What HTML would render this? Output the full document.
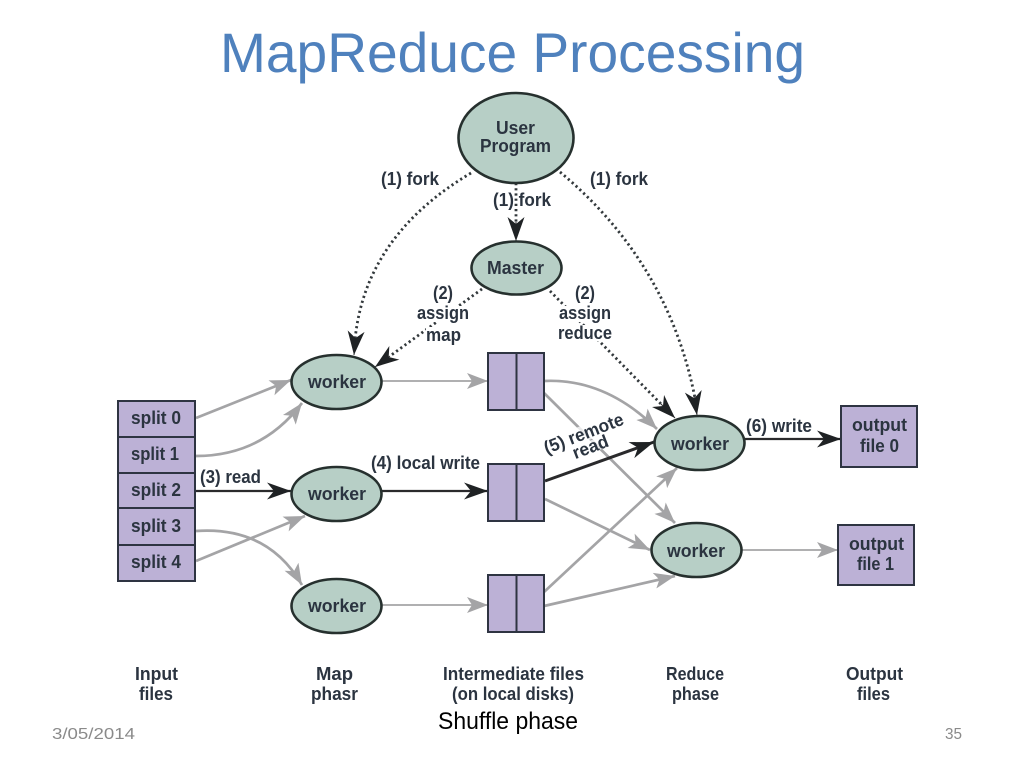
<!DOCTYPE html>
<html>
<head>
<meta charset="utf-8">
<style>
html,body{margin:0;padding:0;background:#fff;width:1024px;height:768px;overflow:hidden}
svg{display:block}
text{font-family:"Liberation Sans",sans-serif}
.l{font-size:18px;font-weight:bold;fill:#2b3440;text-anchor:start}
.b{fill:#bcb1d6;stroke:#2e3442;stroke-width:2}
.e{fill:#b7cfc6;stroke:#26302e;stroke-width:2.6}
.g{fill:none;stroke:#a4a4a6;stroke-width:2.7}
.gt{fill:none;stroke:#a4a4a6;stroke-width:1.8}
.k{fill:none;stroke:#2a2a2c;stroke-width:2.2}
.d{fill:none;stroke:#33393c;stroke-width:2.8;stroke-dasharray:2.2 3}
.dg{filter:blur(.35px)}
</style>
</head>
<body>
<svg width="1024" height="768" viewBox="0 0 1024 768" xmlns="http://www.w3.org/2000/svg">
<defs>
<marker id="ag" markerUnits="userSpaceOnUse" markerWidth="26" markerHeight="20" refX="21" refY="10" orient="auto"><path d="M0,2 L21,10 L0,18 L5,10 Z" fill="#a4a4a6"/></marker>
<marker id="ak" markerUnits="userSpaceOnUse" markerWidth="30" markerHeight="22" refX="24" refY="11" orient="auto"><path d="M0,2.500 L24,11 L0,19.500 L7,11 Z" fill="#1f2224"/></marker>
</defs>
<rect width="1024" height="768" fill="#fff"/>

<text x="220" y="72" font-size="56" fill="#4f81bd" textLength="585" lengthAdjust="spacingAndGlyphs">MapReduce Processing</text>

<g class="dg">
<!-- connectors -->
<path class="g" marker-end="url(#ag)" d="M196,418 L291,380"/>
<path class="g" marker-end="url(#ag)" d="M196,456 Q262,456 302,403"/>
<path class="k" marker-end="url(#ak)" d="M194,491 L291,491"/>
<path class="g" marker-end="url(#ag)" d="M196,531 Q268,526 302,585"/>
<path class="g" marker-end="url(#ag)" d="M196,561 L305,516"/>
<path class="gt" marker-end="url(#ag)" d="M382,381 L488,381"/>
<path class="k" marker-end="url(#ak)" d="M382,491 L488,491"/>
<path class="gt" marker-end="url(#ag)" d="M382,605 L488,605"/>
<path class="g" marker-end="url(#ag)" d="M544,381 Q605,378 657,429"/>
<path class="g" marker-end="url(#ag)" d="M544,393 L675,523"/>
<path class="g" marker-end="url(#ag)" d="M545,499 L650,550"/>
<path class="g" marker-end="url(#ag)" d="M544,592 L677,468"/>
<path class="g" marker-end="url(#ag)" d="M544,606 L675,576"/>
<g transform="translate(587,459) rotate(-21)">
<rect x="-30" y="-33" width="82" height="16" fill="#fff" fill-opacity=".75"/>
<rect x="-12" y="-16" width="40" height="12" fill="#fff" fill-opacity=".75"/>
</g>
<path class="k" style="stroke-width:3" marker-end="url(#ak)" d="M545,481 L654,442"/>
<path class="k" marker-end="url(#ak)" d="M745,439 L841,439"/>
<path class="gt" marker-end="url(#ag)" d="M742,550 L838,550"/>

<path class="d" d="M516,183 L516,225"/>
<path class="k" marker-end="url(#ak)" d="M516,222 L516,241" style="stroke-width:1"/>
<path class="d" d="M471,173 Q365,236 355,340"/>
<path class="k" marker-end="url(#ak)" d="M355.500,338 L354,355" style="stroke-width:1"/>
<path class="d" d="M560,172 Q668,262 695,398"/>
<path class="k" marker-end="url(#ak)" d="M694,396 L697,415" style="stroke-width:1"/>
<path class="d" d="M482,289 L390,356"/>
<path class="k" marker-end="url(#ak)" d="M390,356 L375,367" style="stroke-width:1"/>
<path class="d" d="M550,291 L661,404"/>
<path class="k" marker-end="url(#ak)" d="M661,404 L675,418" style="stroke-width:1"/>

<!-- splits -->
<rect class="b" x="118" y="401" width="77" height="36"/>
<rect class="b" x="118" y="437" width="77" height="36"/>
<rect class="b" x="118" y="473" width="77" height="35"/>
<rect class="b" x="118" y="508" width="77" height="37"/>
<rect class="b" x="118" y="545" width="77" height="36"/>
<text class="l" x="131" y="424" textLength="50" lengthAdjust="spacingAndGlyphs">split 0</text>
<text class="l" x="131" y="460" textLength="48" lengthAdjust="spacingAndGlyphs">split 1</text>
<text class="l" x="131" y="496" textLength="50" lengthAdjust="spacingAndGlyphs">split 2</text>
<text class="l" x="131" y="532" textLength="50" lengthAdjust="spacingAndGlyphs">split 3</text>
<text class="l" x="131" y="568" textLength="50" lengthAdjust="spacingAndGlyphs">split 4</text>

<!-- intermediate -->
<rect class="b" x="488" y="353" width="56" height="57"/><line x1="516.500" y1="353" x2="516.500" y2="410" stroke="#2e3442" stroke-width="2"/>
<rect class="b" x="488" y="464" width="56" height="57"/><line x1="516.500" y1="464" x2="516.500" y2="521" stroke="#2e3442" stroke-width="2"/>
<rect class="b" x="488" y="575" width="56" height="57"/><line x1="516.500" y1="575" x2="516.500" y2="632" stroke="#2e3442" stroke-width="2"/>

<!-- outputs -->
<rect class="b" x="841" y="406" width="76" height="61"/>
<rect class="b" x="838" y="525" width="76" height="60"/>
<text class="l" x="852" y="431" textLength="55" lengthAdjust="spacingAndGlyphs">output</text>
<text class="l" x="860" y="452" textLength="39" lengthAdjust="spacingAndGlyphs">file 0</text>
<text class="l" x="849" y="550" textLength="55" lengthAdjust="spacingAndGlyphs">output</text>
<text class="l" x="857" y="570" textLength="37" lengthAdjust="spacingAndGlyphs">file 1</text>

<!-- ellipses -->
<ellipse class="e" cx="516" cy="138" rx="57.500" ry="45"/>
<ellipse class="e" cx="516.500" cy="268" rx="45" ry="26.500"/>
<ellipse class="e" cx="336.500" cy="382" rx="45" ry="27"/>
<ellipse class="e" cx="336.500" cy="494" rx="45" ry="27"/>
<ellipse class="e" cx="336.500" cy="606" rx="45" ry="27"/>
<ellipse class="e" cx="699.500" cy="443" rx="45" ry="27"/>
<ellipse class="e" cx="696.500" cy="550" rx="45" ry="27"/>

<text class="l" x="496" y="134" textLength="39" lengthAdjust="spacingAndGlyphs">User</text>
<text class="l" x="480" y="152" textLength="71" lengthAdjust="spacingAndGlyphs">Program</text>
<text class="l" x="487" y="274" textLength="57" lengthAdjust="spacingAndGlyphs">Master</text>
<text class="l" x="308" y="388" textLength="58" lengthAdjust="spacingAndGlyphs">worker</text>
<text class="l" x="308" y="500" textLength="58" lengthAdjust="spacingAndGlyphs">worker</text>
<text class="l" x="308" y="612" textLength="58" lengthAdjust="spacingAndGlyphs">worker</text>
<text class="l" x="671" y="450" textLength="58" lengthAdjust="spacingAndGlyphs">worker</text>
<text class="l" x="667" y="557" textLength="58" lengthAdjust="spacingAndGlyphs">worker</text>

<!-- connector labels -->
<text class="l" x="381" y="185" textLength="58" lengthAdjust="spacingAndGlyphs">(1) fork</text>
<text class="l" x="590" y="185" textLength="58" lengthAdjust="spacingAndGlyphs">(1) fork</text>
<text class="l" x="493" y="206" textLength="58" lengthAdjust="spacingAndGlyphs">(1) fork</text>

<rect x="418" y="306" width="51" height="16" fill="#fff"/>
<rect x="426" y="327" width="35" height="17" fill="#fff"/>
<rect x="559" y="306" width="52" height="16" fill="#fff"/>
<rect x="558" y="325" width="54" height="16" fill="#fff"/>
<text class="l" x="433" y="299" textLength="20" lengthAdjust="spacingAndGlyphs">(2)</text>
<text class="l" x="417" y="319" textLength="52" lengthAdjust="spacingAndGlyphs">assign</text>
<text class="l" x="426" y="341" textLength="35" lengthAdjust="spacingAndGlyphs">map</text>
<text class="l" x="575" y="299" textLength="20" lengthAdjust="spacingAndGlyphs">(2)</text>
<text class="l" x="559" y="319" textLength="52" lengthAdjust="spacingAndGlyphs">assign</text>
<text class="l" x="558" y="339" textLength="54" lengthAdjust="spacingAndGlyphs">reduce</text>

<text class="l" x="200" y="483" textLength="61" lengthAdjust="spacingAndGlyphs">(3) read</text>
<text class="l" x="371" y="469" textLength="109" lengthAdjust="spacingAndGlyphs">(4) local write</text>
<text class="l" x="746" y="432" textLength="66" lengthAdjust="spacingAndGlyphs">(6) write</text>

<g transform="translate(587,459) rotate(-21)">
<text class="l" x="-36" y="-19" textLength="84" lengthAdjust="spacingAndGlyphs">(5) remote</text>
<text class="l" x="-11" y="-4" textLength="37" lengthAdjust="spacingAndGlyphs">read</text>
</g>

<!-- column labels -->
<text class="l" x="135" y="680" textLength="43" lengthAdjust="spacingAndGlyphs">Input</text>
<text class="l" x="139" y="700" textLength="34" lengthAdjust="spacingAndGlyphs">files</text>
<text class="l" x="316" y="680" textLength="37" lengthAdjust="spacingAndGlyphs">Map</text>
<text class="l" x="311" y="700" textLength="47" lengthAdjust="spacingAndGlyphs">phasr</text>
<text class="l" x="443" y="680" textLength="141" lengthAdjust="spacingAndGlyphs">Intermediate files</text>
<text class="l" x="452" y="700" textLength="122" lengthAdjust="spacingAndGlyphs">(on local disks)</text>
<text class="l" x="666" y="680" textLength="58" lengthAdjust="spacingAndGlyphs">Reduce</text>
<text class="l" x="672" y="700" textLength="47" lengthAdjust="spacingAndGlyphs">phase</text>
<text class="l" x="846" y="680" textLength="57" lengthAdjust="spacingAndGlyphs">Output</text>
<text class="l" x="857" y="700" textLength="33" lengthAdjust="spacingAndGlyphs">files</text>
</g>

<text x="438" y="729" font-size="24" fill="#000" textLength="140" lengthAdjust="spacingAndGlyphs">Shuffle phase</text>
<text x="52" y="739" font-size="16" fill="#8a8a8a" textLength="83" lengthAdjust="spacingAndGlyphs">3/05/2014</text>
<text x="945" y="739" font-size="16" fill="#8a8a8a" textLength="17" lengthAdjust="spacingAndGlyphs">35</text>
</svg>
</body>
</html>
